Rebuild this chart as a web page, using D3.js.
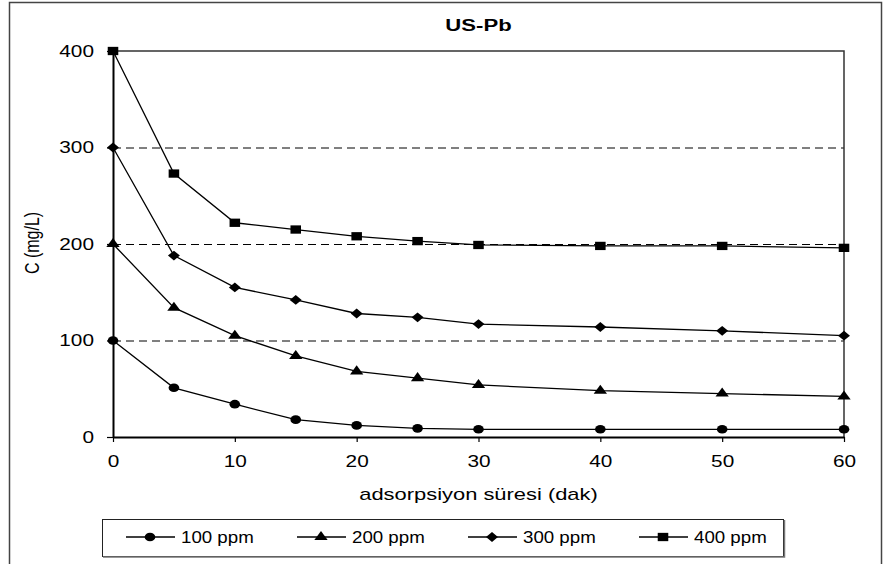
<!DOCTYPE html>
<html><head><meta charset="utf-8">
<script src="https://cdn.jsdelivr.net/npm/d3@7"></script>
<style>body{margin:0;background:#fff}svg{display:block;font-family:"Liberation Sans",Arial,sans-serif}</style>
</head><body><svg id="c" width="885" height="564"></svg>
<script>
const times = [0,5,10,15,20,25,30,40,50,60];
const s100 = [100,51,34,18,12,9,8,8,8,8];
const s200 = [200,134,105,84,68,61,54,48,45,42];
const s300 = [300,188,155,142,128,124,117,114,110,105];
const s400 = [400,273,222,215,208,203,199,198,198,196];
const seriesNames = ["100 ppm","200 ppm","300 ppm","400 ppm"];
const seriesSymbols = ["circle","triangle","diamond","square"];
const xTicks = [0,10,20,30,40,50,60];
const yTicks = [0,100,200,300,400];
const title = "US-Pb";
const xTitle = "adsorpsiyon süresi (dak)";
const yTitle = "C (mg/L)";

const SX = 1.3; // horizontal stretch of glyphs in the original
const svg = d3.select("#c");
const L=113, R=844, T=51, B=437;
const x = d3.scaleLinear().domain([0,60]).range([L,R]);
const y = d3.scaleLinear().domain([0,400]).range([B,T]);

// outer border
svg.append("rect").attr("x",9.5).attr("y",2.5).attr("width",872).attr("height",570)
  .attr("fill","none").attr("stroke","#444").attr("stroke-width",1.5);

// title
svg.append("text").attr("transform",`translate(${(L+R)/2},31) scale(${SX},1)`).attr("text-anchor","middle")
  .attr("font-weight","bold").attr("font-size",17).text(title);

// gridlines
svg.append("g").selectAll("line").data(yTicks.filter(v=>v>0&&v<400)).join("line")
  .attr("x1",L).attr("x2",R).attr("y1",d=>y(d)+0.5).attr("y2",d=>y(d)+0.5)
  .attr("stroke","#000").attr("stroke-width",1).attr("stroke-dasharray","8,5");

// top & right border
svg.append("path").attr("d",`M${L},${T}H${R}V${B}`).attr("fill","none").attr("stroke","#333").attr("stroke-width",1.5);

// axes
const xAxis = svg.append("g").attr("transform",`translate(0,${B})`)
  .call(d3.axisBottom(x).tickValues(xTicks).tickSize(5).tickPadding(14).tickSizeOuter(0));
const yAxis = svg.append("g").attr("transform",`translate(${L},0)`)
  .call(d3.axisLeft(y).tickValues(yTicks).tickSize(6).tickPadding(13).tickSizeOuter(0));
[xAxis,yAxis].forEach(g=>{
  g.select(".domain").attr("stroke","#000").attr("stroke-width",2);
  g.selectAll(".tick line").attr("stroke","#000").attr("stroke-width",1.2);
  g.selectAll("text").attr("font-size",16).attr("fill","#000").attr("font-family","Liberation Sans, Arial, sans-serif")
    .each(function(){
      const t=d3.select(this);
      const tx=+t.attr("x")||0, ty=+t.attr("y")||0;
      t.attr("x",0).attr("y",0).attr("transform",`translate(${tx},${ty}) scale(${SX},1)`);
    });
});

// axis titles
svg.append("text").attr("transform",`translate(${(L+R)/2},500) scale(1.37,1)`).attr("text-anchor","middle").attr("font-size",16).text(xTitle);
svg.append("text").attr("transform",`translate(39,243) rotate(-90) scale(1,${SX})`).attr("text-anchor","middle").attr("font-size",16).text(yTitle);

// symbols (glyphs are slightly wider than tall in the original)
function symPath(type){
  if(type==="circle") return {d:d3.symbol().type(d3.symbolCircle).size(59)(), t:"scale(1.23,1)"};
  if(type==="triangle") return {d:d3.symbol().type(d3.symbolTriangle).size(47)(), t:"scale(1.28,1)"};
  if(type==="diamond") return {d:d3.symbol().type(d3.symbolSquare).size(48)(), t:"scale(1.22,1) rotate(45)"};
  return {d:d3.symbol().type(d3.symbolSquare).size(69)(), t:"scale(1.27,1)"};
}
const allSeries = [s100,s200,s300,s400];
const line = d3.line().x((d,i)=>x(times[i])).y(d=>y(d));
allSeries.forEach((vals,k)=>{
  svg.append("path").attr("d",line(vals)).attr("fill","none").attr("stroke","#000").attr("stroke-width",1.3);
  const sp = symPath(seriesSymbols[k]);
  svg.append("g").selectAll("path").data(vals).join("path")
    .attr("transform",(d,i)=>`translate(${x(times[i])},${y(d)}) ${sp.t}`).attr("d",sp.d).attr("fill","#000");
});

// legend
const lg = svg.append("g");
lg.append("rect").attr("x",102.5).attr("y",519.5).attr("width",681).attr("height",37)
  .attr("fill","#fff").attr("stroke","#222").attr("stroke-width",1);
lg.append("path").attr("d","M103,557H784.5V520").attr("fill","none").attr("stroke","#777").attr("stroke-width",1.5);
const legX = [126,297,468,639];
seriesNames.forEach((n,k)=>{
  const lx = legX[k], ly = 537;
  lg.append("line").attr("x1",lx).attr("x2",lx+49).attr("y1",ly).attr("y2",ly).attr("stroke","#000").attr("stroke-width",1.3);
  const sp = symPath(seriesSymbols[k]);
  lg.append("path").attr("transform",`translate(${lx+24},${ly}) ${sp.t}`).attr("d",sp.d).attr("fill","#000");
  lg.append("text").attr("transform",`translate(${lx+55},543) scale(1.1,1)`).attr("font-size",17).text(n);
});
</script></body></html>
